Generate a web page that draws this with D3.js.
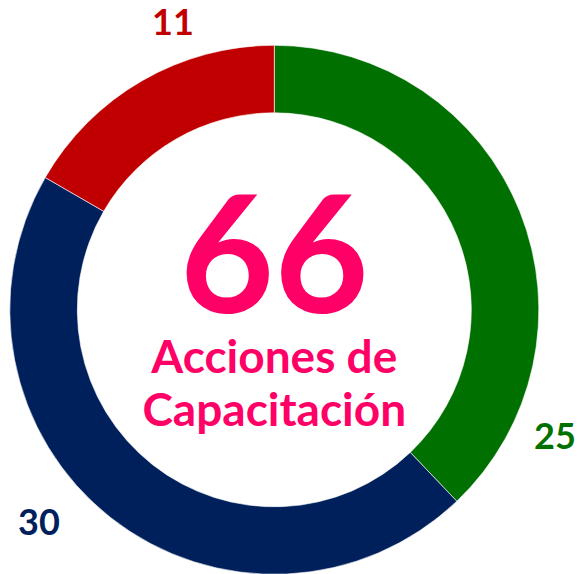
<!DOCTYPE html>
<html>
<head>
<meta charset="utf-8">
<script src="https://cdn.jsdelivr.net/npm/d3@7"></script>
<style>
  html, body { margin: 0; padding: 0; background: #ffffff; }
  svg { display: block; }
  text { font-family: Lato, "Open Sans", sans-serif; font-weight: 700; }
</style>
</head>
<body>
<svg id="chart" width="577" height="574"></svg>
<script>
// Training actions by category
const categories = ["Verde", "Azul", "Rojo"];
const values = [25, 30, 11];
const colors = ["#007000", "#00205B", "#C00000"];
const totalLabel = "66";
const titleLines = ["Acciones de", "Capacitación"];

const width = 577, height = 574;
const cx = 274.3, cy = 309.8;
const outerR = 264.5, innerR = 197;

const svg = d3.select("#chart");
const g = svg.append("g").attr("transform", `translate(${cx},${cy})`);

const pie = d3.pie().sort(null).value(d => d.value);
const arcs = pie(categories.map((c, i) => ({ name: c, value: values[i], color: colors[i] })));
const arc = d3.arc().innerRadius(innerR).outerRadius(outerR);

g.selectAll("path.slice")
  .data(arcs)
  .join("path")
  .attr("class", "slice")
  .attr("d", arc)
  .attr("fill", d => d.data.color)
  .attr("stroke", "#ffffff")
  .attr("stroke-width", 0.6);

// value labels placed outside the ring
const labelPos = [
  { x: 555, y: 449, anchor: "middle" },
  { x: 39, y: 535, anchor: "middle" },
  { x: 173, y: 35, anchor: "middle" }
];
svg.selectAll("text.val")
  .data(arcs)
  .join("text")
  .attr("class", "val")
  .attr("x", (d, i) => labelPos[i].x)
  .attr("y", (d, i) => labelPos[i].y)
  .attr("text-anchor", (d, i) => labelPos[i].anchor)
  .attr("font-size", 36)
  .attr("fill", d => d.data.color)
  .text(d => d.data.value);

// centre total and caption
const pink = "#FF0066";
svg.append("text")
  .attr("x", cx)
  .attr("y", 313)
  .attr("text-anchor", "middle")
  .attr("font-size", 163)
  .attr("fill", pink)
  .text(totalLabel);

svg.selectAll("text.title")
  .data(titleLines)
  .join("text")
  .attr("class", "title")
  .attr("x", cx)
  .attr("y", (d, i) => 373 + i * 53)
  .attr("text-anchor", "middle")
  .attr("font-size", 46)
  .attr("fill", pink)
  .text(d => d);
</script>
</body>
</html>
